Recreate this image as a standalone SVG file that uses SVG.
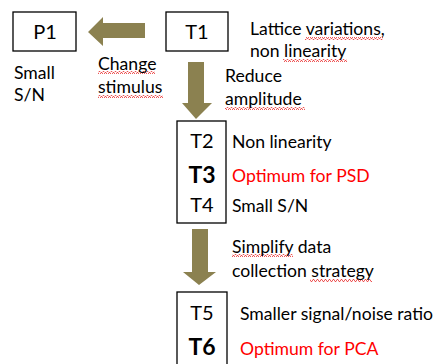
<svg xmlns="http://www.w3.org/2000/svg" width="435" height="364" viewBox="0 0 435 364">
<defs>
<pattern id="wavy" width="4" height="3" patternUnits="userSpaceOnUse">
<path d="M0,2.5 L1,0.5 L2,0.5 L3,2.5 L4,2.5" fill="none" stroke="#e83030" stroke-width="0.8"/>
</pattern>
</defs>
<style>
.box{fill:#fff;stroke:#000;stroke-width:1.3}
.t{font-family:Lato,"Liberation Sans",sans-serif;font-size:17.6px;fill:#000}
.n{font-family:Lato,"Liberation Sans",sans-serif;font-size:20px;fill:#000;text-anchor:middle}
.b{font-weight:bold;font-size:23px}
.r{fill:#ff0000}
.arr{fill:#8b8150}
.sq{fill:url(#wavy)}
</style>
<rect width="435" height="364" fill="#fff"/>
<g id="connectors">
<path class="arr" d="M145,23 L103,23 L103,17 L88,32 L103,46 L103,38 L145,38 Z"/>
<path class="arr" d="M188,62 L204,62 L204,103 L212,103 L196,119 L182,103 L188,103 Z"/>
<path class="arr" d="M192,229 L208,229 L208,272 L216,272 L199,285 L183,272 L192,272 Z"/>
</g>
<g id="P1"><rect class="box" x="13" y="12" width="63" height="39"/><text class="n" x="45" y="39">P1</text></g>
<g id="T1"><rect class="box" x="166" y="12" width="62" height="39"/><text class="n" x="197" y="39">T1</text></g>
<g id="T2T4"><rect class="box" x="177" y="121" width="49" height="102"/>
<text class="n" x="202" y="148">T2</text><text class="n b" x="202" y="183">T3</text><text class="n" x="202" y="212">T4</text></g>
<g id="T5T6"><rect class="box" x="177" y="292" width="50" height="80"/>
<text class="n" x="202" y="320">T5</text><text class="n b" x="202" y="355">T6</text></g>
<g id="spellcheck">
<rect class="sq" x="305" y="37" width="78" height="3"/>
<rect class="sq" x="283" y="59" width="64" height="3"/>
<rect class="sq" x="98" y="71" width="57" height="3"/>
<rect class="sq" x="98" y="95" width="65" height="3"/>
<rect class="sq" x="225" y="107" width="80" height="3"/>
<rect class="sq" x="232" y="254" width="61" height="3"/>
<rect class="sq" x="310" y="279" width="62" height="3"/>
</g>
<g id="labels">
<text class="t" x="250" y="35">Lattice variations,</text>
<text class="t" x="250" y="57">non linearity</text>
<text class="t" x="98" y="70">Change</text>
<text class="t" x="98" y="93">stimulus</text>
<text class="t" x="14" y="79">Small</text>
<text class="t" x="14" y="101">S/N</text>
<text class="t" x="225" y="82">Reduce</text>
<text class="t" x="225" y="105">amplitude</text>
<text class="t" x="232" y="148">Non linearity</text>
<text class="t r" x="232" y="182">Optimum for PSD</text>
<text class="t" x="232" y="212">Small S/N</text>
<text class="t" x="232" y="253">Simplify data</text>
<text class="t" x="232" y="277">collection strategy</text>
<text class="t" x="240" y="320">Smaller signal/noise ratio</text>
<text class="t r" x="240" y="355">Optimum for PCA</text>
</g>
</svg>
